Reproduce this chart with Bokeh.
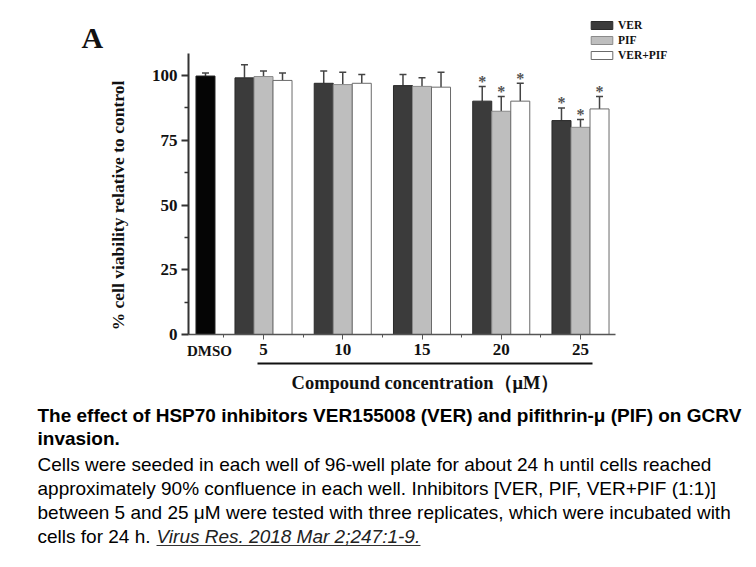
import math
from bokeh.plotting import figure
from bokeh.models import (ColumnDataSource, FixedTicker, Label, Legend, LegendItem,
                          Whisker, TeeHead, Arrow)
from bokeh.core.properties import value
from bokeh.embed import file_html
from bokeh.resources import INLINE

# ---- data -------------------------------------------------------------
concentrations = ["5", "10", "15", "20", "25"]          # µM
dmso_mean = 99.8
dmso_err = 1.2
ver_mean = [99.1, 97.0, 96.1, 90.1, 82.6]
ver_err = [5.1, 4.7, 4.3, 5.7, 4.9]
pif_mean = [99.6, 96.5, 95.8, 86.2, 80.0]
pif_err = [2.1, 4.8, 3.3, 5.7, 3.0]
combo_mean = [98.1, 97.0, 95.5, 90.1, 87.1]
combo_err = [2.9, 3.4, 5.8, 6.9, 4.8]
ver_sig = [False, False, False, True, True]
pif_sig = [False, False, False, True, True]
combo_sig = [False, False, False, True, True]
y_ticks = [0, 25, 50, 75, 100]
y_max = 108.5

SERIF = "Liberation Serif"
SANS = "Liberation Sans"

# ---- layout (pixels on the canvas) ---------------------------------------
W, H = 756, 567
AX_LEFT, AX_RIGHT, AX_TOP, AX_BOTTOM = 188, 615, 53, 334
GROUP_PX = 79.25          # pixels between concentration groups
FIRST_GROUP_PX = 263      # pixel of the first group centre
Y_PX = (AX_BOTTOM - AX_TOP) / y_max

groups = list(range(1, len(concentrations) + 1))
bw = 0.24
dmso_x = 0.268


def px_to_x(px):
    return groups[0] + (px - FIRST_GROUP_PX) / GROUP_PX


def py_to_y(py):
    return (AX_BOTTOM - py) / Y_PX


# the frame covers the whole canvas; the axes are pinned inside it
p = figure(width=W, height=H,
           x_range=(px_to_x(0), px_to_x(W)), y_range=(py_to_y(H), py_to_y(0)),
           output_backend="svg", toolbar_location=None,
           min_border=0, min_border_left=0, min_border_right=0,
           min_border_top=0, min_border_bottom=0)
p.outline_line_color = None
p.xgrid.visible = False
p.ygrid.visible = False
p.background_fill_color = "white"
p.border_fill_color = "white"

series = [
    ("VER", ver_mean, ver_err, ver_sig, -bw, "#3b3b3b", "#2a2a2a"),
    ("PIF", pif_mean, pif_err, pif_sig, 0.0, "#bebebe", "#8a8a8a"),
    ("VER+PIF", combo_mean, combo_err, combo_sig, bw, "#ffffff", "#6a6a6a"),
]

# DMSO control bar
dmso_src = ColumnDataSource(dict(x=[dmso_x], top=[dmso_mean],
                                 upper=[dmso_mean + dmso_err]))
p.vbar(x="x", top="top", width=bw, source=dmso_src,
       fill_color="#050505", line_color="#222222", line_width=1)
p.add_layout(Whisker(source=dmso_src, base="x", lower="top", upper="upper",
                     line_color="#444444", line_width=1.5, lower_head=None,
                     upper_head=TeeHead(size=7, line_color="#444444", line_width=1.5)))

legend_items = []
for name, mean, err, sig, off, fill, edge in series:
    xs = [g + off for g in groups]
    src = ColumnDataSource(dict(x=xs, top=mean,
                                upper=[m + e for m, e in zip(mean, err)]))
    r = p.vbar(x="x", top="top", width=bw, source=src,
               fill_color=fill, line_color=edge, line_width=1)
    legend_items.append(LegendItem(label=name, renderers=[r]))
    p.add_layout(Whisker(source=src, base="x", lower="top", upper="upper",
                         line_color="#444444", line_width=1.5, lower_head=None,
                         upper_head=TeeHead(size=7, line_color="#444444",
                                            line_width=1.5)))
    star_x = [x for x, s in zip(xs, sig) if s]
    star_y = [m + e for m, e, s in zip(mean, err, sig) if s]
    p.text(x=star_x, y=star_y, text=["*"] * len(star_x),
           text_font=value(SERIF), text_font_style="bold",
           text_font_size="16px", text_color="#555555",
           text_align="center", text_baseline="middle", y_offset=-5)

legend = Legend(items=legend_items, location=(588, H - 61),
                glyph_width=27, glyph_height=10, label_height=10,
                spacing=3, padding=0, margin=0, label_standoff=3,
                label_text_font=SERIF, label_text_font_style="bold",
                label_text_font_size="11.5px", label_text_color="#111111",
                border_line_color=None, background_fill_alpha=0)
p.add_layout(legend)

# ---- axes ---------------------------------------------------------------
ya = p.yaxis[0]
ya.fixed_location = px_to_x(AX_LEFT)
ya.bounds = (0, y_max)
ya.ticker = FixedTicker(ticks=y_ticks, minor_ticks=[12.5, 37.5, 62.5, 87.5])
ya.major_label_text_font = SERIF
ya.major_label_text_font_style = "bold"
ya.major_label_text_font_size = "17px"
ya.major_label_text_color = "#111111"
ya.major_label_standoff = 4
ya.major_tick_out = 7
ya.major_tick_in = 0
ya.minor_tick_out = 4
ya.minor_tick_in = 0
ya.axis_line_width = 2
ya.axis_line_color = "#333333"
ya.major_tick_line_color = "#333333"
ya.major_tick_line_width = 2
ya.minor_tick_line_color = "#333333"
ya.minor_tick_line_width = 1.5

xa = p.xaxis[0]
xa.fixed_location = 0
xa.bounds = (px_to_x(AX_LEFT), px_to_x(AX_RIGHT))
xa.ticker = FixedTicker(ticks=groups, minor_ticks=[g - 0.5 for g in groups])
xa.major_label_overrides = {g: c for g, c in zip(groups, concentrations)}
xa.major_label_text_font = SERIF
xa.major_label_text_font_style = "bold"
xa.major_label_text_font_size = "17px"
xa.major_label_text_color = "#111111"
xa.major_label_standoff = 4
xa.major_tick_out = 5
xa.major_tick_in = 0
xa.minor_tick_out = 3
xa.minor_tick_in = 0
xa.axis_line_width = 1.5
xa.axis_line_color = "#555555"
xa.major_tick_line_color = "#555555"
xa.minor_tick_line_color = "#555555"


# ---- texts (canvas pixels, y measured from the top, anchored at the middle) --
def add_label(text, x, y, size, font=SERIF, style="bold", align="left",
              angle=0, color="#111111"):
    p.add_layout(Label(x=x, y=H - y, x_units="screen", y_units="screen",
                       text=text, text_font=font, text_font_style=style,
                       text_font_size=size, text_align=align,
                       text_baseline="middle", angle=angle, text_color=color))


add_label("A", 81, 37, "30px")
add_label("DMSO", 209, 350, "15px", align="center")
add_label("% cell viability relative to control", 117, 205, "17.5px",
          align="center", angle=math.pi / 2)
add_label("Compound concentration（μM）", 425, 382, "18.5px", align="center")

# bracket under the concentration labels
p.add_layout(Arrow(x_start=257, y_start=H - 363, x_end=592, y_end=H - 363,
                   start_units="screen", end_units="screen", end=None,
                   line_color="#111111", line_width=2))

# ---- caption --------------------------------------------------------------
caption_bold = [
    "The effect of HSP70 inhibitors VER155008 (VER) and pifithrin-μ (PIF) on GCRV",
    "invasion.",
]
caption_body = [
    "Cells were seeded in each well of 96-well plate for about 24 h until cells reached",
    "approximately 90% confluence in each well. Inhibitors [VER, PIF, VER+PIF (1:1)]",
    "between 5 and 25 μM were tested with three replicates, which were incubated with",
    "cells for 24 h.",
]
citation = "Virus Res. 2018 Mar 2;247:1-9."

for i, line in enumerate(caption_bold):
    add_label(line, 37, 415 + 23 * i, "19px", font=SANS, style="bold", color="#000000")
for i, line in enumerate(caption_body):
    add_label(line, 37, 464 + 24 * i, "19px", font=SANS, style="normal", color="#000000")
add_label(citation, 156, 536, "19px", font=SANS, style="italic", color="#222222")
p.add_layout(Arrow(x_start=156, y_start=H - 545, x_end=420, y_end=H - 545,
                   start_units="screen", end_units="screen", end=None,
                   line_color="#333333", line_width=1))

open("out.html", "w").write(file_html(p, INLINE))
